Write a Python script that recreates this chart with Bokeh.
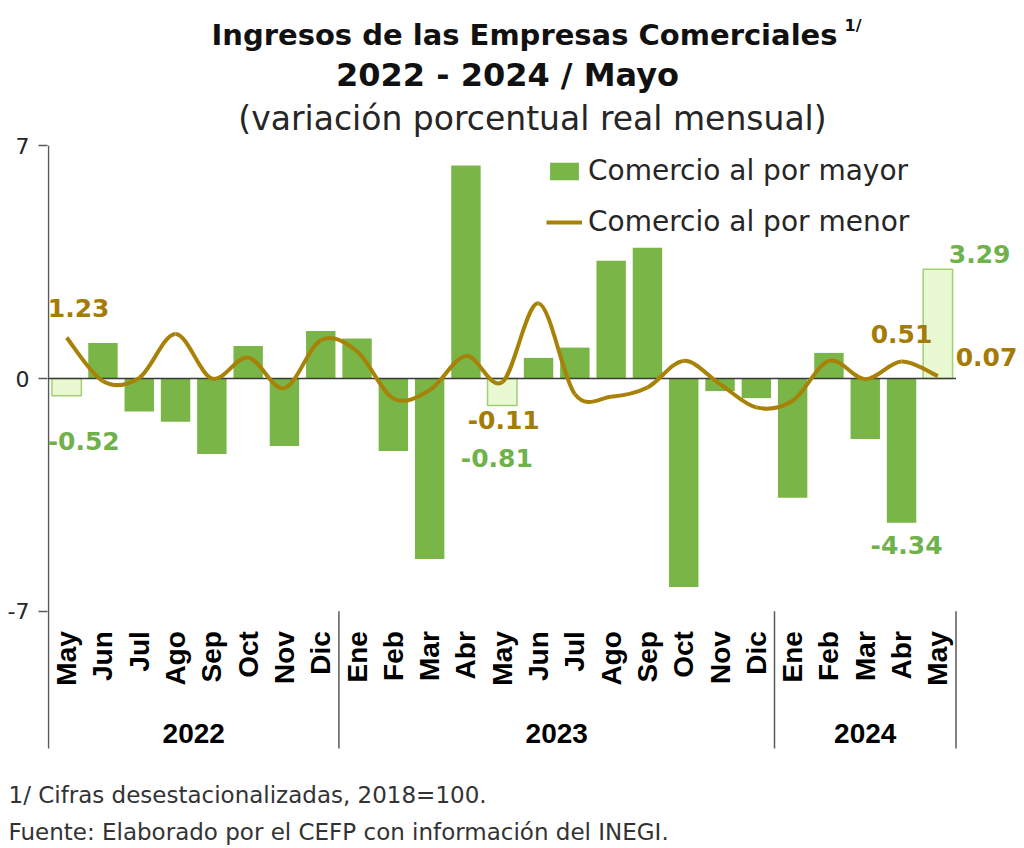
import numpy as np
from bokeh.plotting import figure
from bokeh.models import (ColumnDataSource, Range1d, FixedTicker, Label,
                          Legend, LegendItem, Title)
from bokeh.embed import file_html
from bokeh.resources import INLINE
from bokeh.core.properties import value

# ---------------- data ----------------
months = ["May", "Jun", "Jul", "Ago", "Sep", "Oct", "Nov", "Dic",
          "Ene", "Feb", "Mar", "Abr", "May", "Jun", "Jul", "Ago", "Sep", "Oct", "Nov", "Dic",
          "Ene", "Feb", "Mar", "Abr", "May"]
years = ["2022"] * 8 + ["2023"] * 12 + ["2024"] * 5

# Comercio al por mayor (bars)
mayor = [-0.52, 1.07, -0.99, -1.30, -2.27, 0.98, -2.03, 1.43,
         1.20, -2.18, -5.43, 6.41, -0.81, 0.62, 0.93, 3.54, 3.93, -6.27, -0.38, -0.59,
         -3.59, 0.77, -1.82, -4.34, 3.29]
# Comercio al por menor (line)
menor = [1.23, -0.08, 0.02, 1.34, 0.00, 0.63, -0.29, 1.15,
         0.82, -0.60, -0.35, 0.68, -0.11, 2.26, -0.47, -0.55, -0.27, 0.53, -0.17, -0.87,
         -0.67, 0.53, -0.02, 0.51, 0.07]

y_ticks = [-7, 0, 7]
labeled = [0, 12, 23, 24]   # months whose values are annotated

title1 = "Ingresos de las Empresas Comerciales"
title_sup = "1/"
title2 = "2022 - 2024 / Mayo"
title3 = "(variación porcentual real mensual)"
note1 = "1/ Cifras desestacionalizadas, 2018=100."
note2 = "Fuente: Elaborado por el CEFP con información  del INEGI."
series_names = ["Comercio al por mayor", "Comercio al por menor"]

# ---------------- styles / geometry ----------------
GREEN = "#7AB547"
GREEN_TXT = "#6FB24B"
LIGHT_FILL = "#E9FAD2"
LIGHT_LINE = "#A3CF74"
OLIVE = "#A88208"
OLIVE_TXT = "#A47C05"
AXIS = "#595959"
FONT = "DejaVu Sans"
FONT_AX = "Liberation Sans"

W, H = 1024, 848
FL, FB = 47, 78            # left border (y axis), bottom border (notes)
X_AX = 48                  # canvas x of the y-axis line
PXX = 36.3                 # px per category
Y0 = 378                   # canvas y of value 0
PXY = 33.24                # px per unit
Y_SEP = 748                # canvas y where group separators end

n = len(months)
idx = np.arange(n, dtype=float)


def dx(X):      # canvas x -> data x
    return -0.5 + (X - X_AX) / PXX


def dy(Y):      # canvas y -> data y
    return (Y0 - Y) / PXY


p = figure(width=W, height=H,
           x_range=Range1d(dx(FL), dx(W)), y_range=Range1d(dy(H - FB), dy(0)),
           output_backend="svg", toolbar_location=None, x_axis_location=None,
           min_border_left=FL, min_border_right=0, min_border_top=0,
           min_border_bottom=FB, outline_line_color=None,
           background_fill_color="white", border_fill_color="white")
p.xgrid.visible = False
p.ygrid.visible = False

ax = p.yaxis[0]
ax.ticker = FixedTicker(ticks=y_ticks)
ax.major_label_overrides = {t: str(t) for t in y_ticks}
ax.minor_tick_line_color = None
ax.major_tick_in = 0
ax.major_tick_out = 9
ax.major_label_standoff = 9
ax.axis_line_color = None
ax.major_tick_line_color = AXIS
ax.major_tick_line_width = 1.5
ax.major_label_text_font = FONT
ax.major_label_text_font_size = "22px"
ax.major_label_text_color = "#262626"

# axis line (drawn from top tick down to the end of the category band)
p.segment(x0=[-0.5], x1=[-0.5], y0=[max(y_ticks)], y1=[dy(Y_SEP)],
          line_color=AXIS, line_width=1.5)

# bars
hl = [m == "May" for m in months]
src_n = ColumnDataSource(dict(x=[i for i, h in zip(idx, hl) if not h],
                              top=[v for v, h in zip(mayor, hl) if not h]))
src_h = ColumnDataSource(dict(x=[i for i, h in zip(idx, hl) if h],
                              top=[v for v, h in zip(mayor, hl) if h]))
bars = p.vbar(x="x", top="top", bottom=0, width=0.81, source=src_n,
              fill_color=GREEN, line_color=None)
p.vbar(x="x", top="top", bottom=0, width=0.81, source=src_h,
       fill_color=LIGHT_FILL, line_color=LIGHT_LINE, line_width=1.5)

# zero line
p.segment(x0=[-0.5], x1=[n - 0.5], y0=[0], y1=[0], line_color="#3a3a3a",
          line_width=1.5)

# smooth line (Catmull-Rom -> cubic Bezier through the data points)
ys = np.array(menor, dtype=float)
xp = np.concatenate([[idx[0]], idx, [idx[-1]]])
yp = np.concatenate([[ys[0]], ys, [ys[-1]]])
bz = dict(x0=[], y0=[], x1=[], y1=[], cx0=[], cy0=[], cx1=[], cy1=[])
for i in range(n - 1):
    k = i + 1
    bz["x0"].append(xp[k]); bz["y0"].append(yp[k])
    bz["x1"].append(xp[k + 1]); bz["y1"].append(yp[k + 1])
    bz["cx0"].append(xp[k] + (xp[k + 1] - xp[k - 1]) / 6)
    bz["cy0"].append(yp[k] + (yp[k + 1] - yp[k - 1]) / 6)
    bz["cx1"].append(xp[k + 1] - (xp[k + 2] - xp[k]) / 6)
    bz["cy1"].append(yp[k + 1] - (yp[k + 2] - yp[k]) / 6)
line = p.bezier(x0="x0", y0="y0", x1="x1", y1="y1", cx0="cx0", cy0="cy0",
                cx1="cx1", cy1="cy1", source=ColumnDataSource(bz),
                line_color=OLIVE, line_width=4)

# data labels (offsets in data units from the point)
off_mayor = {0: (0.47, -1.35), 12: (-0.15, -1.57), 23: (0.14, -0.68), 24: (1.15, 0.47)}
off_menor = {0: (0.33, 0.88), 12: (0.04, -1.15), 23: (0.0, 0.84), 24: (1.34, 0.59)}
for i in labeled:
    ox, oy = off_mayor[i]
    p.add_layout(Label(x=idx[i] + ox, y=mayor[i] + oy, text=f"{mayor[i]:.2f}",
                       text_align="center", text_baseline="middle",
                       text_font=FONT, text_font_style="bold",
                       text_font_size="25px", text_color=GREEN_TXT))
    ox, oy = off_menor[i]
    p.add_layout(Label(x=idx[i] + ox, y=menor[i] + oy, text=f"{menor[i]:.2f}",
                       text_align="center", text_baseline="middle",
                       text_font=FONT, text_font_style="bold",
                       text_font_size="25px", text_color=OLIVE_TXT))

# category axis (months, years, separators)
p.text(x=idx, y=[min(y_ticks)] * n, text=months, angle=np.pi / 2, y_offset=20,
       text_align="right", text_baseline="middle",
       text_font=value(FONT_AX), text_font_style="bold", text_font_size="28px",
       text_color="#000000")
uy = list(dict.fromkeys(years))
mids = [float(np.mean([i for i, y in zip(idx, years) if y == u])) for u in uy]
p.text(x=mids, y=[min(y_ticks)] * len(uy), text=uy, y_offset=122,
       text_align="center", text_baseline="middle",
       text_font=value(FONT_AX), text_font_style="bold", text_font_size="28px",
       text_color="#000000")
bounds = [i - 0.5 for i in range(1, n) if years[i] != years[i - 1]] + [n - 0.5]
p.segment(x0=bounds, x1=bounds, y0=[min(y_ticks)] * len(bounds),
          y1=[dy(Y_SEP)] * len(bounds), line_color=AXIS, line_width=1.5)

# legend (location = bottom-left corner, screen px from frame bottom-left)
legend = Legend(items=[LegendItem(label=series_names[0], renderers=[bars]),
                       LegendItem(label=series_names[1], renderers=[line])],
                location=(546 - FL, (H - FB) - 238), border_line_color=None,
                background_fill_alpha=0, label_text_font=FONT,
                label_text_font_size="28px", label_text_color="#262626",
                glyph_width=36, glyph_height=22, label_standoff=6,
                spacing=18, padding=0, margin=0)
p.add_layout(legend)


# titles (inside the frame, placed in data units)
def lab(text, X, Y, size, bold=False, align="center", color="#111111"):
    p.add_layout(Label(x=dx(X), y=dy(Y), text=text, text_align=align,
                       text_baseline="middle", text_font=FONT,
                       text_font_style="bold" if bold else "normal",
                       text_font_size=size, text_color=color))


lab(title1, 524, 34, "29px", bold=True)
lab(title_sup, 844, 25, "16px", bold=True, align="left")
lab(title2, 507, 74, "32px", bold=True)
lab(title3, 532, 118, "33px", color="#262626")

# notes below the frame
for t, so in ((note1, 18), (note2, 0)):
    p.add_layout(Title(text=t, align="left", offset=8 - FL, standoff=so,
                       text_font=FONT, text_font_size="23px",
                       text_font_style="normal", text_color="#333333"), "below")

open("out.html", "w").write(file_html(p, INLINE))
